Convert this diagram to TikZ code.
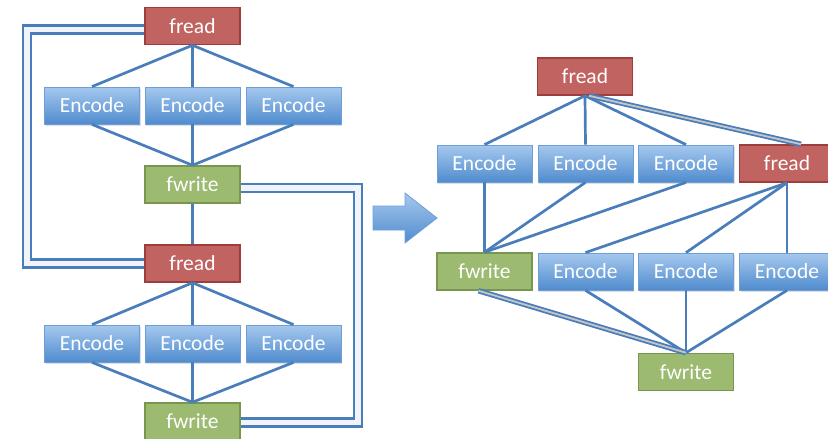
\documentclass[tikz,border=0pt]{standalone}
\usepackage{fontspec}
\setmainfont{Carlito}
\usetikzlibrary{shadows}
\definecolor{lineblue}{RGB}{74,126,187}
\definecolor{encTop}{RGB}{165,200,238}
\definecolor{encBot}{RGB}{80,140,206}
\definecolor{encBorder}{RGB}{110,158,214}
\definecolor{readFill}{RGB}{193,99,97}
\definecolor{readBorder}{RGB}{158,62,60}
\definecolor{writeFill}{RGB}{156,186,112}
\definecolor{writeBorder}{RGB}{120,150,80}
\tikzset{
  box/.style={minimum width=95pt, minimum height=37pt, inner sep=0pt, text=white, font=\fontsize{21.5}{23}\selectfont},
  encbox/.style={box, top color=encTop, bottom color=encBot, draw=encBorder, line width=0.8pt,
     drop shadow={opacity=0.25, shadow xshift=1pt, shadow yshift=-1.5pt}},
  readbox/.style={box, fill=readFill, draw=readBorder, line width=1.5pt},
  writebox/.style={box, fill=writeFill, draw=writeBorder, line width=1.5pt},
  conn/.style={draw=lineblue, line width=2.7pt},
  loopline/.style={draw=lineblue, line width=2.3pt, double=white!92!lineblue, double distance=5.5pt},
  pairline/.style={draw=lineblue, line width=1.8pt, double=gray!45, double distance=1.8pt}
}
\begin{document}
\begin{tikzpicture}[x=1pt, y=-1pt]
\useasboundingbox (0,0) rectangle (828,439);
% ---------- left ----------
\node[readbox]  (lr1) at (192.5,26) {fread};
\node[encbox]   (le1a) at (92,105.5) {Encode};
\node[encbox]   (le1b) at (192.5,105.5) {Encode};
\node[encbox]   (le1c) at (293.5,105.5) {Encode};
\node[writebox] (lw1) at (192.5,184.5) {fwrite};
\node[readbox]  (lr2) at (192.5,263.5) {fread};
\node[encbox]   (le2a) at (92,343.5) {Encode};
\node[encbox]   (le2b) at (192.5,343.5) {Encode};
\node[encbox]   (le2c) at (293.5,343.5) {Encode};
\node[writebox] (lw2) at (192.5,421.5) {fwrite};
\coordinate (lloop) at (27,150);
\coordinate (rloop) at (358,300);
\foreach \e in {le1a,le1b,le1c}{
  \draw[conn] (lr1.south) -- (\e.north);
  \draw[conn] (\e.south) -- (lw1.north);
}
\foreach \e in {le2a,le2b,le2c}{
  \draw[conn] (lr2.south) -- (\e.north);
  \draw[conn] (\e.south) -- (lw2.north);
}
\draw[conn] (lw1.south) -- (lr2.north);
\draw[loopline] ([yshift=-3.5pt]lr1.west) -| (lloop) |- (lr2.west);
\draw[loopline] ([yshift=-3.5pt]lw1.east) -| (rloop) |- ([yshift=-1pt]lw2.east);
% ---------- arrow ----------
\shade[top color=encTop, bottom color=encBot, draw=encBorder, line width=0.8pt]
  (373,206) -- (405,206) -- (405,193) -- (437,218) -- (405,243) -- (405,230) -- (373,230) -- cycle;
% ---------- right ----------
\node[readbox]  (rr)  at (585,76.5) {fread};
\node[encbox]   (re1) at (484.5,163.5) {Encode};
\node[encbox]   (re2) at (585.5,163.5) {Encode};
\node[encbox]   (re3) at (686,163.5) {Encode};
\node[readbox]  (rr2) at (787,163.5) {fread};
\node[writebox] (rw1) at (484.5,271.5) {fwrite};
\node[encbox]   (re4) at (585.5,271.5) {Encode};
\node[encbox]   (re5) at (686,271.5) {Encode};
\node[encbox]   (re6) at (787,271.5) {Encode};
\node[writebox] (rw2) at (686,372) {fwrite};
\foreach \e in {re1,re2,re3}{
  \draw[conn] (rr.south) -- (\e.north);
  \draw[conn] (\e.south) -- (rw1.north);
}
\draw[pairline] ([xshift=4pt]rr.south) -- ([xshift=14pt]rr2.north);
\foreach \e in {re4,re5,re6}{
  \draw[conn] (rr2.south) -- (\e.north);
  \draw[conn] (\e.south) -- (rw2.north);
}
\draw[pairline] ([xshift=-6pt]rw1.south) -- (rw2.north);
\end{tikzpicture}
\end{document}
